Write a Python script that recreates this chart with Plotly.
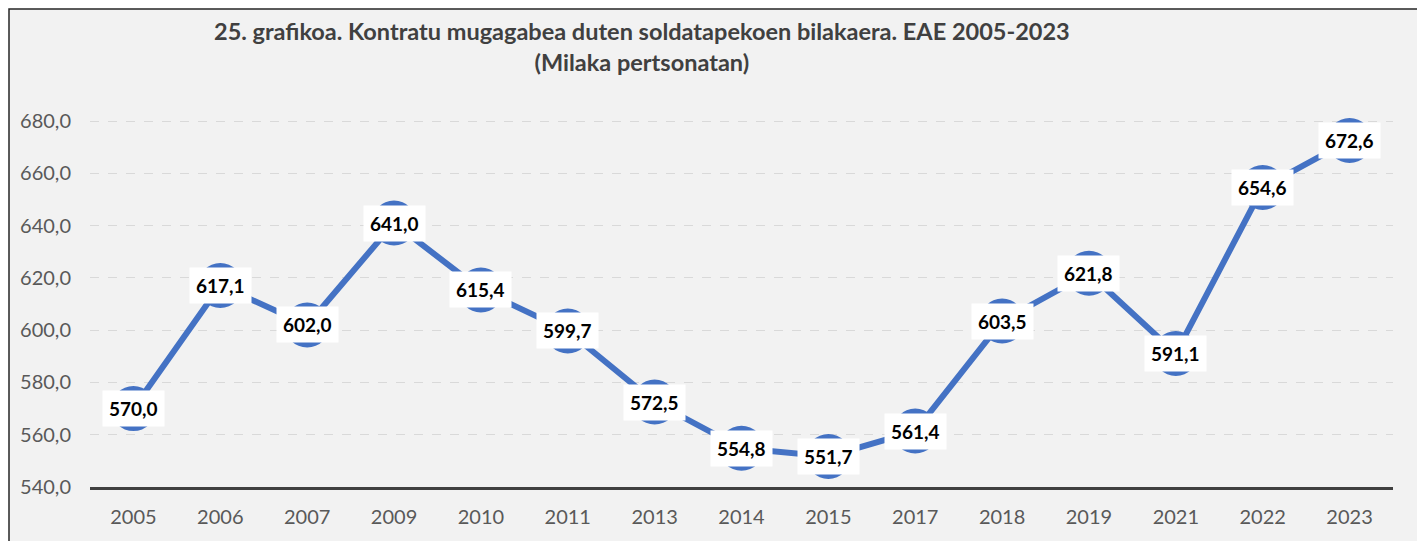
import plotly.graph_objects as go

years = ["2005", "2006", "2007", "2009", "2010", "2011", "2013", "2014", "2015",
         "2017", "2018", "2019", "2021", "2022", "2023"]
values = [570.0, 617.1, 602.0, 641.0, 615.4, 599.7, 572.5, 554.8, 551.7,
          561.4, 603.5, 621.8, 591.1, 654.6, 672.6]
y_ticks = [540, 560, 580, 600, 620, 640, 660, 680]

title = ("25. grafikoa. Kontratu mugagabea duten soldatapekoen bilakaera. EAE 2005-2023"
         "<br>(Milaka pertsonatan)")

FONT = "Lato, 'Open Sans', sans-serif"

# page offset (browser body margin)
OFF = 8
L, R, T, B = 90 - OFF, 40, 95 - OFF, 62
PW = 1425 - L - R
PH = 541 - T - B

fig = go.Figure()
fig.add_trace(go.Scatter(
    x=list(range(len(years))), y=values, mode="lines+markers",
    line=dict(color="#4472C4", width=6),
    marker=dict(color="#4472C4", size=45, line=dict(width=0)),
    cliponaxis=False, hoverinfo="y",
))

for i, v in enumerate(values):
    fig.add_annotation(
        x=i, y=v, text=f"<b>{v:.1f}</b>".replace(".", ","),
        showarrow=False, bgcolor="white", borderpad=6,
        font=dict(family=FONT, size=19, color="black"),
    )

def fx(x):  # figure pixel -> paper
    return (x - L) / PW

def fy(y):  # figure pixel (from top) -> paper
    return (541 - B - y) / PH

# outer chart border / background
fig.add_shape(type="rect", xref="paper", yref="paper",
              x0=fx(1), x1=fx(1422 - OFF), y0=fy(560), y1=fy(1),
              fillcolor="#F2F2F2", line=dict(color="#262626", width=1.5),
              layer="below")

fig.add_annotation(xref="paper", yref="paper", x=fx(642 - OFF), y=fy(46 - OFF),
                   xanchor="center", yanchor="middle", showarrow=False,
                   text=f"<b>{title}</b>", align="center",
                   font=dict(family=FONT, size=23.5, color="#404040"))

fig.update_layout(
    width=1425, height=541,
    margin=dict(l=L, r=R, t=T, b=B),
    paper_bgcolor="white", plot_bgcolor="rgba(0,0,0,0)",
    showlegend=False, separators=", ",
    font=dict(family=FONT, color="#595959", size=20),
)
fig.update_xaxes(range=[-0.5, 14.5], tickvals=list(range(len(years))), ticktext=years,
                 showgrid=False, zeroline=False,
                 showline=True, linecolor="#404040", linewidth=3,
                 ticks="", tickfont=dict(size=20, color="#595959"), ticklabelstandoff=10)
fig.update_yaxes(range=[540, 690], tickvals=y_ticks, tickformat=".1f",
                 showgrid=True, gridcolor="#D9D9D9", griddash="dash", gridwidth=1,
                 zeroline=False, showline=False, ticks="",
                 tickfont=dict(size=20, color="#595959"), ticklabelstandoff=18)

fig.write_html("out.html")
